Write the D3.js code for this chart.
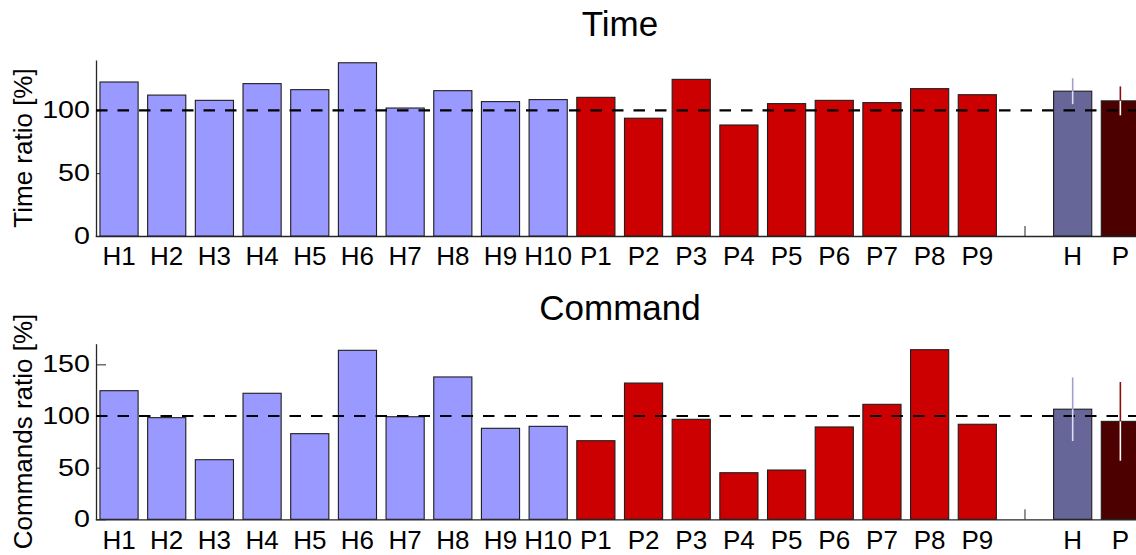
<!DOCTYPE html>
<html>
<head>
<meta charset="utf-8">
<script src="https://cdn.jsdelivr.net/npm/d3@7"></script>
<style>
  html, body { margin: 0; padding: 0; background: #fff; overflow: hidden; }
  svg { display: block; font-family: "Liberation Sans", Arial, Helvetica, sans-serif; }
</style>
</head>
<body>
<svg id="chart" width="1136" height="555"></svg>
<script>
// ---- data ----
const categories = ["H1","H2","H3","H4","H5","H6","H7","H8","H9","H10",
                    "P1","P2","P3","P4","P5","P6","P7","P8","P9","","H","P"];
const hLabels = ["H1","H2","H3","H4","H5","H6","H7","H8","H9","H10"];
const pLabels = ["P1","P2","P3","P4","P5","P6","P7","P8","P9"];
const aggLabels = ["H","P"];

const timeH = [122.5,112.1,107.9,121.2,116.4,137.8,101.8,115.6,106.9,108.5];
const timeP = [110.3,93.7,124.6,88.3,105.3,107.9,106.1,117.2,112.4];
const timeAgg = [115.2,107.5];
const timeErr = [10.3,11.5];

const cmdH = [124.5,98.4,57.7,122.0,82.9,163.6,99.3,137.8,88.1,90.0];
const cmdP = [76.1,131.9,96.8,45.1,47.7,89.4,111.3,164.2,92.0];
const cmdAgg = [106.6,94.8];
const cmdErr = [30.8,38.1];

const timeTicks = [0,50,100];
const cmdTicks = [0,50,100,150];

// ---- layout ----
const svg = d3.select("#chart");
const colH = "#9999ff", colP = "#cc0000", colHA = "#666699", colPA = "#4c0000";
const errUp = ["#a0a0d4", "#8a0c0c"], errDown = ["#dcdcf6", "#ffffff"];

const x = d3.scaleBand().domain(categories).range([95.2, 1144.2])
  .paddingInner(0.2).paddingOuter(0.1);

function panel(opts) {
  const y = d3.scaleLinear().domain([0, opts.ymax]).range([opts.y0, opts.y1]);
  const g = svg.append("g");

  // x axis (ticks under bars)
  const xa = g.append("g").attr("transform", `translate(0,${opts.y0})`)
    .call(d3.axisBottom(x).tickSizeInner(-10).tickSizeOuter(0).tickPadding(11));
  xa.selectAll("text").attr("font-size", 26).attr("fill", "#000")
    .attr("font-family", "Liberation Sans, Arial, sans-serif");
  xa.selectAll("line").attr("stroke", "#262626").attr("stroke-width", 1);
  xa.select(".domain").attr("stroke", "#262626").attr("stroke-width", 1.3);

  // y axis
  const ya = g.append("g").attr("transform", `translate(96,0)`)
    .call(d3.axisLeft(y).tickValues(opts.ticks).tickSizeInner(-10).tickSizeOuter(0).tickPadding(6));
  ya.selectAll("text").attr("font-size", 23.5).attr("fill", "#000")
    .attr("font-family", "Liberation Sans, Arial, sans-serif")
    .attr("x", 0)
    .attr("transform", "translate(-6,0) scale(1.22,1)");
  ya.selectAll("line").attr("stroke", "#262626").attr("stroke-width", 1);
  ya.select(".domain").attr("stroke", "#262626").attr("stroke-width", 1.3);

  // bars
  const bars = [];
  hLabels.forEach((c, i) => bars.push({c, v: opts.h[i], fill: colH}));
  pLabels.forEach((c, i) => bars.push({c, v: opts.p[i], fill: colP}));
  aggLabels.forEach((c, i) => bars.push({c, v: opts.agg[i], fill: i === 0 ? colHA : colPA}));
  g.append("g").selectAll("rect").data(bars).join("rect")
    .attr("x", d => x(d.c))
    .attr("width", x.bandwidth())
    .attr("y", d => y(d.v))
    .attr("height", d => y(0) - y(d.v))
    .attr("fill", d => d.fill)
    .attr("stroke", "#1e1e1e")
    .attr("stroke-width", 1.1);

  // reference line at 100
  g.append("line")
    .attr("x1", 96).attr("x2", 1136)
    .attr("y1", y(100)).attr("y2", y(100))
    .attr("stroke", "#000").attr("stroke-width", 2.2)
    .attr("stroke-dasharray", "11.5,10");

  // error bars (upper and lower halves)
  aggLabels.forEach((c, i) => {
    const cx = x(c) + x.bandwidth() / 2;
    const m = opts.agg[i], e = opts.err[i];
    g.append("line").attr("x1", cx).attr("x2", cx)
      .attr("y1", y(m)).attr("y2", y(m + e))
      .attr("stroke", errUp[i]).attr("stroke-width", 1.6);
    g.append("line").attr("x1", cx).attr("x2", cx)
      .attr("y1", y(m)).attr("y2", y(m - e))
      .attr("stroke", errDown[i]).attr("stroke-width", 1.6);
  });

  // title
  svg.append("text").attr("x", 620).attr("y", opts.titleY)
    .attr("text-anchor", "middle").attr("font-size", 35).attr("fill", "#000")
    .text(opts.title);

  // y label
  const cy = (opts.y0 + opts.y1) / 2;
  svg.append("text")
    .attr("transform", `translate(${opts.labelX},${cy}) rotate(-90)`)
    .attr("text-anchor", "middle").attr("font-size", 26).attr("fill", "#000")
    .text(opts.ylabel);
}

panel({ymax: 140, y0: 236, y1: 60, ticks: timeTicks, h: timeH, p: timeP,
       agg: timeAgg, err: timeErr, title: "Time", titleY: 36,
       ylabel: "Time ratio [%]", labelX: 32});
panel({ymax: 170, y0: 519.3, y1: 343.7, ticks: cmdTicks, h: cmdH, p: cmdP,
       agg: cmdAgg, err: cmdErr, title: "Command", titleY: 320,
       ylabel: "Commands ratio [%]", labelX: 32});
</script>
</body>
</html>
